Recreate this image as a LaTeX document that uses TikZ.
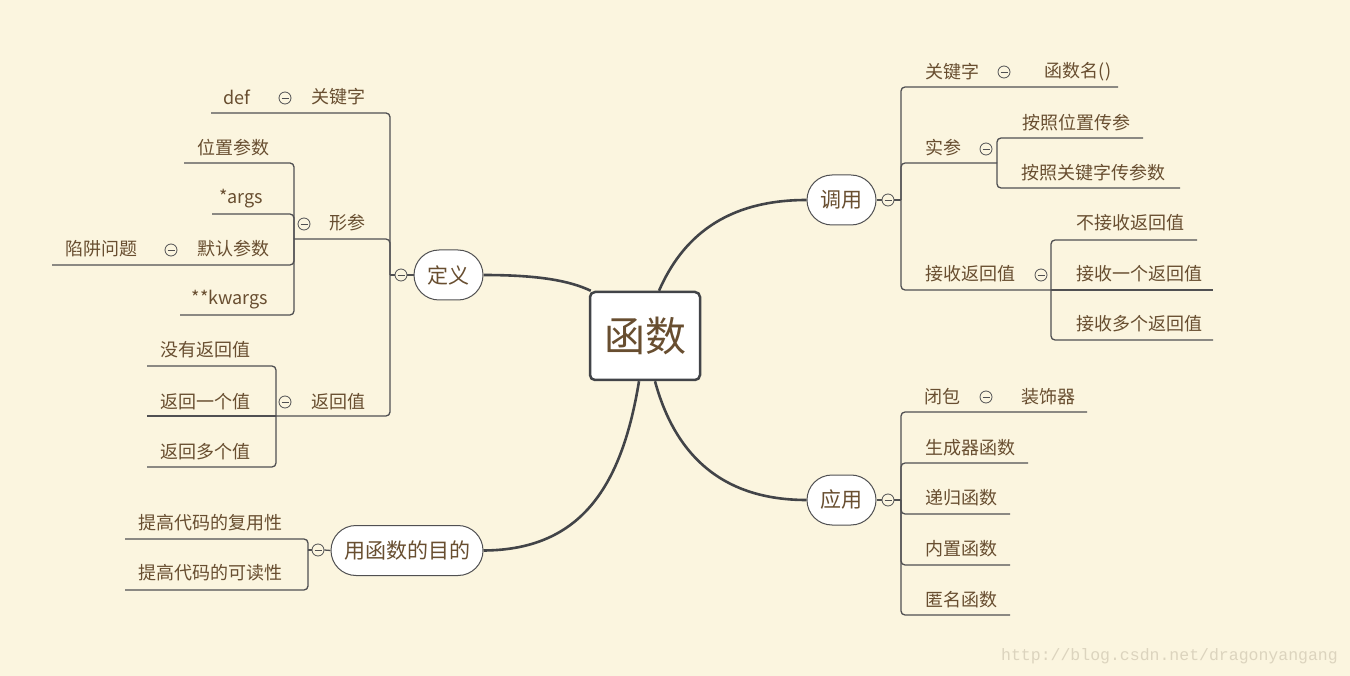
\documentclass[tikz,border=0pt]{standalone}
\usepackage{fontspec}
\setmainfont{Noto Sans CJK SC}
\newfontfamily\wmfont{Liberation Mono}
\definecolor{bgc}{RGB}{251,245,223}
\definecolor{txt}{RGB}{104,78,48}
\definecolor{ln}{RGB}{80,80,82}
\definecolor{mainln}{RGB}{66,68,72}
\definecolor{wm}{RGB}{220,212,190}
\pgfdeclarelayer{bg}\pgfsetlayers{bg,main}
\begin{document}
\begin{tikzpicture}[x=1pt,y=-1pt,
  lbl/.style={inner sep=0pt, text=txt, font=\fontsize{18}{18}\selectfont},
  topic/.style={draw=ln, line width=1pt, fill=white, rounded corners=25pt, minimum height=50pt, inner sep=0pt, text=txt, font=\fontsize{21}{21}\selectfont},
  circ/.style={circle, draw=ln, line width=0.8pt, minimum size=12pt, inner sep=0pt, fill=bgc,
    path picture={\draw[ln, line width=0.8pt] ([xshift=-3.5pt]path picture bounding box.center) -- ([xshift=3.5pt]path picture bounding box.center);}},
  branch/.style={draw=ln, line width=1.3pt, rounded corners=4pt},
  curve/.style={draw=mainln, line width=2.6pt},
]
\useasboundingbox (0,0) rectangle (1350,676);

% centre
\node[draw=mainln, line width=2.5pt, fill=white, rounded corners=5pt, minimum width=110pt, minimum height=88pt, inner sep=0pt, text=txt, font=\fontsize{41}{41}\selectfont] (fn) at (645,336) {函数};

% ---------- 定义 ----------
\node[topic, minimum width=69pt] (dy) at (448.5,275) {定义};
\node[circ] (cdy) at (401,275) {};
\coordinate (dyj) at (390,275);

\node[lbl] (gjz) at (338,97) {关键字};
\node[circ] (cgjz) at (285,98) {};
\node[lbl] (def) at (237,97) {def};
\coordinate (gjzL) at (211,113);

\node[lbl] (xc) at (347,223) {形参};
\node[circ] (cxc) at (304,224) {};
\coordinate (xcj) at (294,239);
\node[lbl] (wzcs) at (233,148) {位置参数}; \coordinate (wzcsL) at (184,163);
\node[lbl] (args) at (241,199) {*args}; \coordinate (argsL) at (212,214);
\node[lbl] (mrcs) at (233,249) {默认参数}; \coordinate (mrcsL) at (52,265);
\node[circ] (cmrcs) at (171,250) {};
\node[lbl] (xjwt) at (101,249) {陷阱问题};
\node[lbl] (kw) at (230,300) {**kwargs}; \coordinate (kwL) at (180,315);

\node[lbl] (fhz) at (338,402) {返回值};
\node[circ] (cfhz) at (285,402) {};
\coordinate (fhzj) at (276,416);
\node[lbl] (myfhz) at (205,350) {没有返回值}; \coordinate (myL) at (147,366);
\node[lbl] (fhyg) at (205,402) {返回一个值}; \coordinate (fhygL) at (147,416);
\node[lbl] (fhdg) at (205,452) {返回多个值}; \coordinate (fhdgL) at (147,467);

\draw[branch] (dy.west) -- (cdy.east);
\draw[branch] (cdy.west) -- (dyj);
\draw[branch] (dyj) |- (gjzL);
\draw[branch] (dyj) |- (xcj);
\draw[branch] (dyj) |- (fhzj);
\draw[branch] (xcj) |- (wzcsL);
\draw[branch] (xcj) |- (argsL);
\draw[branch] (xcj) |- (mrcsL);
\draw[branch] (xcj) |- (kwL);
\draw[branch] (fhzj) |- (myL);
\draw[branch] (fhzj) -- (fhygL);
\draw[branch] (fhzj) |- (fhdgL);

% ---------- 调用 ----------
\node[topic, minimum width=69pt] (dyong) at (841.5,200) {调用};
\node[circ] (cdyong) at (888,200) {};
\coordinate (dyongj) at (901,200);
\node[lbl] (gjz2) at (952,72) {关键字};
\node[circ] (cgjz2) at (1004,72) {};
\node[lbl] (hsm) at (1078,72) {函数名()};
\coordinate (gjz2R) at (1118,87);
\node[lbl] (sc) at (943,148) {实参};
\node[circ] (csc) at (986,149) {};
\coordinate (scj) at (997,163);
\node[lbl] (azwz) at (1076,123) {按照位置传参}; \coordinate (azwzR) at (1143,138);
\node[lbl] (azgj) at (1093,173) {按照关键字传参数}; \coordinate (azgjR) at (1180,188);
\node[lbl] (jsfhz) at (970,274) {接收返回值};
\node[circ] (cjs) at (1041,275) {};
\coordinate (jsj) at (1051,290);
\node[lbl] (bjs) at (1130,223) {不接收返回值}; \coordinate (bjsR) at (1197,240);
\node[lbl] (jsyg) at (1139,274) {接收一个返回值}; \coordinate (jsygR) at (1213,290);
\node[lbl] (jsdg) at (1139,324) {接收多个返回值}; \coordinate (jsdgR) at (1213,340);

\draw[branch] (dyong.east) -- (cdyong.west);
\draw[branch] (cdyong.east) -- (dyongj);
\draw[branch] (dyongj) |- (gjz2R);
\draw[branch] (dyongj) |- (scj);
\draw[branch] (dyongj) |- (jsj);
\draw[branch] (scj) |- (azwzR);
\draw[branch] (scj) |- (azgjR);
\draw[branch] (jsj) |- (bjsR);
\draw[branch] (jsj) -- (jsygR);
\draw[branch] (jsj) |- (jsdgR);

% ---------- 应用 ----------
\node[topic, minimum width=69pt] (yy) at (841.5,500) {应用};
\node[circ] (cyy) at (888,500) {};
\coordinate (yyj) at (901,500);
\node[lbl] (bb) at (942,397) {闭包};
\node[circ] (cbb) at (986,397) {};
\node[lbl] (zsq) at (1048,397) {装饰器}; \coordinate (bbR) at (1087,412);
\node[lbl] (scq) at (970,448) {生成器函数}; \coordinate (scqR) at (1028,463);
\node[lbl] (dg) at (961,498) {递归函数}; \coordinate (dgR) at (1010,514);
\node[lbl] (nz) at (961,549) {内置函数}; \coordinate (nzR) at (1010,565);
\node[lbl] (nm) at (961,600) {匿名函数}; \coordinate (nmR) at (1010,615);

\draw[branch] (yy.east) -- (cyy.west);
\draw[branch] (cyy.east) -- (yyj);
\draw[branch] (yyj) |- (bbR);
\draw[branch] (yyj) |- (scqR);
\draw[branch] (yyj) |- (dgR);
\draw[branch] (yyj) |- (nzR);
\draw[branch] (yyj) |- (nmR);

% ---------- 用函数的目的 ----------
\node[topic, minimum width=152pt] (md) at (407,550.5) {用函数的目的};
\node[circ] (cmd) at (318,550) {};
\coordinate (mdj) at (308,550);
\node[lbl] (fy) at (210,523) {提高代码的复用性}; \coordinate (fyL) at (125,539);
\node[lbl] (kd) at (210,573) {提高代码的可读性}; \coordinate (kdL) at (125,590);

\draw[branch] (md.west) -- (cmd.east);
\draw[branch] (cmd.west) -- (mdj);
\draw[branch] (mdj) |- (fyL);
\draw[branch] (mdj) |- (kdL);

% watermark
\node[font=\wmfont\fontsize{16.5}{16.5}\selectfont, text=wm, anchor=east, inner sep=0pt] (wmk) at (1338,656) {http://blog.csdn.net/dragonyangang};

% background and main curves
\begin{pgfonlayer}{bg}
\fill[bgc] (0,0) rectangle (1350,676);
\draw[curve] (dy.east) .. controls (540,275) and (570,281) .. ([xshift=2pt]fn.north west);
\draw[curve] ([xshift=14pt]fn.north) .. controls (682,238) and (725,200) .. (dyong.west);
\draw[curve] ([xshift=10pt]fn.south) .. controls (675,455) and (722,500) .. (yy.west);
\draw[curve] ([xshift=-6pt]fn.south) .. controls (622,485) and (582,550) .. (md.east);
\end{pgfonlayer}
\end{tikzpicture}
\end{document}
